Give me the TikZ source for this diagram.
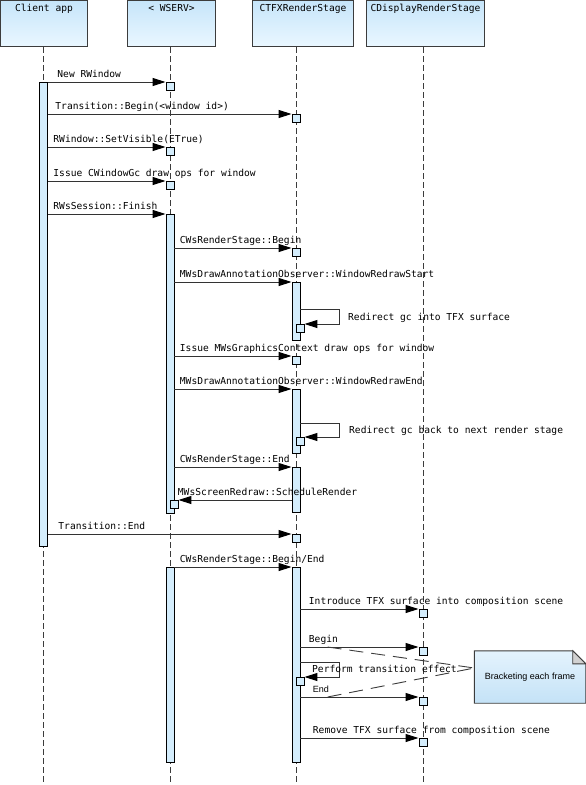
\documentclass[tikz,border=0pt]{standalone}
\usepackage{fontspec}
\setmonofont{DejaVu Sans Mono}
\newfontfamily\notefont{Liberation Sans}
\usetikzlibrary{arrows.meta, backgrounds}

\definecolor{headtop}{RGB}{198,229,250}
\definecolor{headbot}{RGB}{234,247,255}
\definecolor{barblue}{RGB}{212,237,252}
\definecolor{linegray}{RGB}{60,60,60}
\definecolor{notetop}{RGB}{228,243,253}
\definecolor{notebot}{RGB}{196,226,247}

\tikzset{
  head/.style={draw=linegray, line width=1pt, top color=headtop, bottom color=headbot,
    anchor=north west, inner xsep=0pt, inner ysep=3pt, text height=8pt, text depth=32pt,
    font=\ttfamily\fontsize{9.6}{11}\selectfont},
  life/.style={draw=linegray, line width=0.9pt, dash pattern=on 6pt off 3pt},
  actbar/.style={draw=black, line width=0.9pt, fill=barblue, minimum width=8pt, inner sep=0pt, anchor=north},
  tick/.style={actbar, minimum height=8pt},
  msg/.style={draw=black!80, line width=1pt, -{Triangle[length=13pt,width=8pt,color=black]}},
  lbl/.style={anchor=base west, inner sep=0pt, xshift=5pt, yshift=5pt,
    font=\ttfamily\fontsize{9.6}{11}\selectfont},
  loopl/.style={anchor=base west, inner sep=0pt, font=\ttfamily\fontsize{9.6}{11}\selectfont},
  notelink/.style={draw=linegray, line width=0.9pt, dash pattern=on 14pt off 8pt},
  notetext/.style={minimum width=111pt, minimum height=52pt, inner sep=0pt, font=\notefont\fontsize{9}{11}\selectfont}
}

\begin{document}
\begin{tikzpicture}[x=1pt,y=-1pt]
\useasboundingbox (0,0) rectangle (586,785);

% Heads
\node[head, minimum width=87pt] (hC) at (0,0) {Client app};
\node[head, minimum width=88pt] (hW) at (127,0) {< WSERV>};
\node[head, minimum width=101pt] (hT) at (252,0) {CTFXRenderStage};
\node[head, minimum width=118pt] (hD) at (366,0) {CDisplayRenderStage};

% Lifelines
\coordinate (xC) at (43.5,785);
\coordinate (xW) at (170,785);
\coordinate (xT) at (296,785);
\coordinate (xD) at (423,785);
\draw[life] (xC |- hC.south) -- (xC);
\draw[life] (xW |- hW.south) -- (xW);
\draw[life] (xT |- hT.south) -- (xT);
\draw[life] (xD |- hD.south) -- (xD);

% Activation bars
\node[actbar, minimum height=464pt] (cA) at (43.5,82) {};
\node[actbar, minimum height=299pt] (wA) at (170,214) {};
\node[actbar, minimum height=58pt] (tA) at (296,282) {};
\node[actbar, minimum height=64pt] (tB) at (296,389) {};
\node[actbar, minimum height=45pt] (tC) at (296,467) {};
\node[actbar, minimum height=195pt] (wB) at (170,567) {};
\node[actbar, minimum height=195pt] (tD) at (296,567) {};

% Small activations
\node[tick] (w1) at (170,82) {};
\node[tick] (t1) at (296,114) {};
\node[tick] (w2) at (170,147) {};
\node[tick] (w3) at (170,181) {};
\node[tick] (t2) at (296,248) {};
\node[tick] (s1) at (300,324) {};
\node[tick] (t3) at (296,356) {};
\node[tick] (s2) at (300,437) {};
\node[tick] (w4) at (174,500) {};
\node[tick] (t4) at (296,534) {};
\node[tick] (d1) at (423,609) {};
\node[tick] (d2) at (423,647) {};
\node[tick] (s3) at (300,677) {};
\node[tick] (d3) at (423,697) {};
\node[tick] (d4) at (423,738) {};

% Messages
\draw[msg] (cA.east |- w1.north) -- node[lbl, pos=0, xshift=4pt] (l1) {New RWindow} (w1.north west);
\draw[msg] (cA.east |- t1.north) -- node[lbl, pos=0, xshift=2pt] (l2) {Transition::Begin(<window id>)} (t1.north west);
\draw[msg] (cA.east |- w2.north) -- node[lbl, pos=0] (l3) {RWindow::SetVisible(ETrue)} (w2.north west);
\draw[msg] (cA.east |- w3.north) -- node[lbl, pos=0] (l4) {Issue CWindowGc draw ops for window} (w3.north west);
\draw[msg] (cA.east |- wA.north) -- node[lbl, pos=0] (l5) {RWsSession::Finish} (wA.north west);
\draw[msg] (wA.east |- t2.north) -- node[lbl, pos=0] (l6) {CWsRenderStage::Begin} (t2.north west);
\draw[msg] (wA.east |- tA.north) -- node[lbl, pos=0] (l7) {MWsDrawAnnotationObserver::WindowRedrawStart} (tA.north west);

% Self call 1
\coordinate (r1) at (339,309);
\draw[msg] (tA.east |- r1) -- (r1) |- (s1.north east);
\node[loopl] (l8) at ([xshift=9pt, yshift=-11pt]r1) {Redirect gc into TFX surface};

\draw[msg] (wA.east |- t3.north) -- node[lbl, pos=0] (l9) {Issue MWsGraphicsContext draw ops for window} (t3.north west);
\draw[msg] (wA.east |- tB.north) -- node[lbl, pos=0] (l10) {MWsDrawAnnotationObserver::WindowRedrawEnd} (tB.north west);

% Self call 2
\coordinate (r2) at (339,423);
\draw[msg] (tB.east |- r2) -- (r2) |- (s2.north east);
\node[loopl] (l11) at ([xshift=10pt, yshift=-10pt]r2) {Redirect gc back to next render stage};

\draw[msg] (wA.east |- tC.north) -- node[lbl, pos=0] (l12) {CWsRenderStage::End} (tC.north west);
\draw[msg] (tC.west |- w4.north) -- node[lbl, pos=1, xshift=-6pt] (l13) {MWsScreenRedraw::ScheduleRender} (w4.north east);
\draw[msg] (cA.east |- t4.north) -- node[lbl, pos=0, xshift=5pt] (l14) {Transition::End} (t4.north west);
\draw[msg] (wB.north east) -- node[lbl, pos=0] (l15) {CWsRenderStage::Begin/End} (tD.north west);

\draw[msg] (tD.east |- d1.north) -- node[lbl, pos=0, xshift=3pt] (l16) {Introduce TFX surface into composition scene} (d1.north west);
\draw[msg] (tD.east |- d2.north) -- coordinate[pos=0.23] (kb) node[lbl, pos=0, xshift=3pt] (l17) {Begin} (d2.north west);

% Self call 3
\coordinate (r3) at (339,662);
\draw[msg] (tD.east |- r3) -- (r3) |- (s3.north east);
\node[loopl] (l18) at ([xshift=-27pt, yshift=-10pt]r3) {Perform transition effect};

\draw[msg] (tD.east |- d3.north) -- coordinate[pos=0.23] (ke) node[lbl, pos=0, xshift=7pt, font=\notefont\fontsize{9}{11}\selectfont] (l19) {End} (d3.north west);
\draw[msg] (tD.east |- d4.north) -- node[lbl, pos=0, xshift=7pt] (l20) {Remove TFX surface from composition scene} (d4.north west);

% Note
\node[notetext] (note) at (530,677) {Bracketing each frame};
\begin{scope}[on background layer]
\draw[draw=linegray, line width=0.9pt, top color=notetop, bottom color=notebot]
  (note.north west) -- ([xshift=-13pt]note.north east) -- ([yshift=-13pt]note.north east)
  -- (note.south east) -- (note.south west) -- cycle;
\draw[draw=linegray, line width=0.9pt, fill=black!18]
  ([xshift=-13pt]note.north east) -- ([xshift=-13pt, yshift=-13pt]note.north east)
  -- ([yshift=-13pt]note.north east) -- cycle;
\end{scope}
\coordinate (nk) at ([yshift=9pt]note.west);
\draw[notelink] (kb) -- (nk);
\draw[notelink] (ke) -- (nk);

\end{tikzpicture}
\end{document}
